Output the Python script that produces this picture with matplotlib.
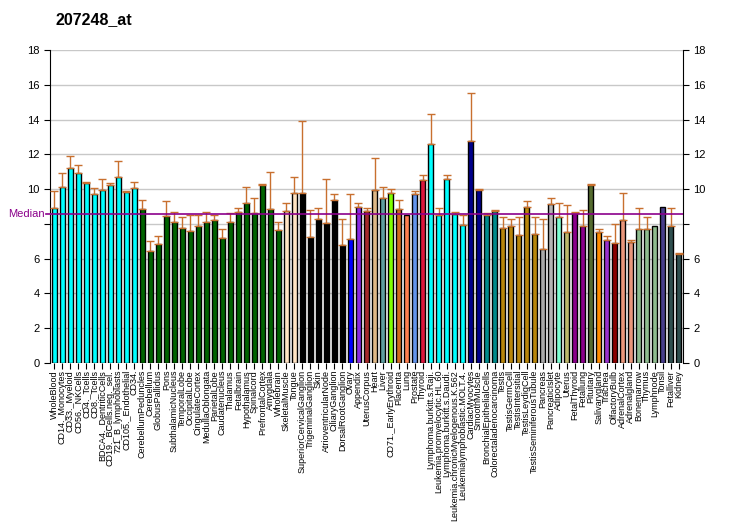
import numpy as np
import matplotlib
matplotlib.use('Agg')
import matplotlib.pyplot as plt

matplotlib.rc('font', family=['Liberation Sans', 'DejaVu Sans'])

title = '207248_at'

labels = ['WholeBlood', 'CD14._Monocytes', 'CD33._Myeloid', 'CD56._NKCells',
          'CD4._Tcells', 'CD8._Tcells', 'BDCA4._DentriticCells',
          'CD19._BCells.neg._sel.', '721_B_lymphoblasts', 'CD105._Endothelial',
          'CD34.', 'CerebellumPeduncles', 'Cerebellum', 'GlobusPallidus', 'Pons',
          'SubthalamicNucleus', 'TemporalLobe', 'OccipitalLobe',
          'CingulateCortex', 'MedullaOblongata', 'ParietalLobe',
          'Caudatenucleus', 'Thalamus', 'Fetalbrain', 'Hypothalamus',
          'Spinalcord', 'PrefrontalCortex', 'Amygdala', 'Wholebrain',
          'SkeletalMuscle', 'Tongue', 'SuperiorCervicalGanglion',
          'TrigeminalGanglion', 'Skin', 'AtrioventricularNode',
          'CiliaryGanglion', 'DorsalRootGanglion', 'Ovary', 'Appendix',
          'UterusCorpus', 'Heart', 'Liver', 'CD71._EarlyErythroid', 'Placenta',
          'Lung', 'Prostate', 'Thyroid', 'Lymphoma.burkitt.s.Raji.',
          'Leukemia.promyelocytic.HL.60', 'Lymphoma.burkitt.s.Daudi.',
          'Leukemia.chronicMyelogenous.K.562', 'Leukemialymphoblastic.MOLT.4.',
          'CardiacMyocytes', 'SmoothMuscle', 'BronchialEpithelialCells',
          'Colorectaladenocarcinoma', 'Testis', 'TestisGermCell',
          'TestisIntersitial', 'TestisLeydigCell', 'TestisSeminiferousTubule',
          'Pancreas', 'PancreaticIslet', 'Adipocyte', 'Uterus', 'FetalThyroid',
          'Fetallung', 'Pituitary', 'Salivarygland', 'Trachea', 'OlfactoryBulb',
          'AdrenalCortex', 'Adrenalgland', 'Bonemarrow', 'Thymus', 'Lymphnode',
          'Tonsil', 'Fetalliver', 'Kidney']

values = [8.89, 10.10, 11.19, 10.91, 10.33, 9.72, 9.95, 10.22, 10.68, 9.81,
          10.04, 8.84, 6.44, 6.82, 8.43, 8.09, 7.75, 7.57, 7.86, 8.09,
          8.21, 7.17, 8.09, 8.67, 9.18, 8.61, 10.22, 8.84, 7.63,
          8.72, 9.76, 9.76, 7.25, 8.28, 8.05, 9.37, 6.79, 7.11, 8.95,
          8.72, 9.93, 9.47, 9.76, 8.84, 8.49, 9.70, 10.51, 12.58, 8.49,
          10.56, 8.55, 7.92, 12.75, 9.93, 8.49, 8.72, 7.75, 7.86, 7.34,
          8.95, 7.40, 6.54, 9.12, 8.38, 7.51, 8.61, 7.86, 10.22, 7.51,
          7.05, 6.88, 8.21, 6.94, 7.69, 7.69, 7.86, 8.95, 7.86, 6.25]

# upper end of the error bar (same as value where no bar is drawn)
err_top = [9.87, 10.91, 11.90, 11.37, 10.39, 10.08, 10.56, 10.37, 11.60, 9.87,
           10.39, 9.36, 7.02, 7.28, 9.30, 8.68, 8.38, 8.49, 8.49, 8.68,
           8.49, 7.69, 8.61, 8.90, 10.10, 9.47, 10.28, 10.97, 8.09,
           9.18, 10.68, 13.90, 8.78, 8.89, 10.56, 9.70, 8.26, 9.70, 9.18,
           8.89, 11.77, 10.10, 9.99, 9.36, 8.49, 9.88, 10.79, 14.30, 8.89,
           10.79, 8.66, 8.49, 15.51, 9.99, 8.61, 8.78, 8.38, 8.26, 8.38,
           9.30, 8.38, 8.26, 9.47, 9.18, 9.07, 8.67, 8.78, 10.28, 7.69,
           7.28, 7.98, 9.76, 7.05, 8.90, 8.38, 7.86, 8.95, 8.90, 6.31]

groups = [('cyan', 11), ('darkgreen', 18), ('bisque', 2), ('black', 6),
          ('blue', 1), ('blueviolet', 1), ('brown', 1), ('burlywood', 1),
          ('cadetblue', 1), ('chartreuse', 1), ('chocolate', 1), ('coral', 1),
          ('cornflowerblue', 1), ('crimson', 1), ('cyan', 5), ('darkblue', 2),
          ('darkcyan', 2), ('darkgoldenrod', 5), ('darkgray', 1),
          ('#B4B4B4', 1), ('aquamarine', 1), ('darkkhaki', 1),
          ('darkmagenta', 2), ('darkolivegreen', 1), ('darkorange', 1),
          ('darkorchid', 1), ('darkred', 1), ('darksalmon', 2),
          ('darkseagreen', 3), ('darkslateblue', 1), ('darkslategray', 2)]

median = 8.55

yticks = list(range(0, 19, 2))
ytick_labels = ['0', '2', '4', '6', '', '10', '12', '14', '16', '18']

colors = []
for c, n in groups:
    colors.extend([c] * n)

x = np.arange(len(labels))
vals = np.array(values)
up = np.array(err_top) - vals

fig = plt.figure(figsize=(7.32, 5.3), dpi=100)
ax = fig.add_axes([50 / 732, 167 / 530, 633 / 732, 313 / 530])

for yv in yticks[1:]:
    ax.axhline(yv, color='#C8C8C8', lw=1, zorder=0)

ax.bar(x, vals, width=0.72, color=colors, edgecolor='black', lw=1, zorder=2)
has_err = up > 0.02
ax.errorbar(x[has_err], vals[has_err], yerr=[np.zeros(has_err.sum()), up[has_err]],
            fmt='none', ecolor='#C8702F', elinewidth=1, capsize=2.8, capthick=1,
            zorder=3)

ax.axhline(median, color='#8B008B', lw=1.2, zorder=4)
ax.plot([-1.1, -0.55], [median, median], color='#8B008B', lw=1.2,
        clip_on=False, zorder=4)
ax.text(-1.2, median, 'Median', color='#8B008B', fontsize=8, ha='right',
        va='center', clip_on=False)

ax.set_xlim(-0.55, len(labels) - 0.45)
ax.set_ylim(0, 18)
ax.set_yticks(yticks)
ax.set_yticklabels(ytick_labels)
ax.tick_params(axis='y', labelsize=8, length=4, right=True, labelright=True)
ax.set_xticks(x)
ax.set_xticklabels(labels, rotation=90, fontsize=6.5)
ax.tick_params(axis='x', length=4, pad=1)
ax.spines['top'].set_visible(False)
ax.spines['bottom'].set_visible(False)
ax.spines['left'].set_bounds(0, 18)
ax.spines['right'].set_bounds(0, 18)

fig.text(55 / 732, 1 - 20 / 530, title, fontsize=11.5, fontweight='bold',
         va='center')

fig.savefig('out.png', dpi=100)
